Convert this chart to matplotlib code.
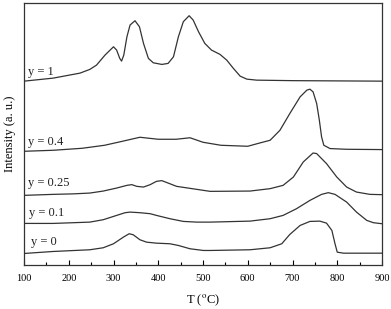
import numpy as np
import matplotlib
matplotlib.use("Agg")
import matplotlib.pyplot as plt
from matplotlib.ticker import MultipleLocator

plt.rcParams['font.family'] = ['Liberation Serif', 'DejaVu Serif']
plt.rcParams['mathtext.fontset'] = 'stix'

# TPR curves, intensity in arbitrary units (already offset for stacking)
t_y1 = [100, 165, 225, 247, 262, 281, 300, 307, 314, 318, 323, 330, 337, 348, 358, 367,
        378, 389, 408, 422, 434, 445, 456, 469, 478, 490, 504, 519, 538, 553, 568, 583,
        598, 620, 700, 900]
i_y1 = [183, 186, 191, 194.7, 199, 209, 217.3, 214, 205.7, 203, 209, 227.3, 239, 243.3,
        237.3, 220.7, 205.7, 201.3, 199.7, 200.7, 207.3, 227.3, 242.3, 248.3, 244, 232.3,
        220.7, 214, 209.7, 204, 195.7, 188, 185, 184, 183.5, 183]

t_y04 = [100, 165, 230, 280, 320, 359, 400, 440, 471, 500, 540, 600, 627, 650, 672, 694,
         717, 732, 739, 746, 754, 760, 765, 770, 784, 821, 900]
i_y04 = [113, 114, 116, 119, 123, 127, 125, 125, 126.5, 122, 119, 118, 121.3, 124, 134,
         150.7, 167.3, 174, 175, 172.3, 160.7, 144, 127.3, 119, 115.7, 115, 114.7]

t_y025 = [100, 165, 210, 247, 277, 307, 330, 341, 352, 367, 382, 396, 408, 422, 441, 471,
          501, 516, 605, 650, 679, 702, 724, 746, 754, 776, 799, 821, 843, 873, 900]
i_y025 = [69, 70, 70.5, 71.3, 73.3, 76.3, 79, 79.7, 78, 77.3, 79.7, 83, 83.7, 81.3, 78, 76,
          74, 73, 73.3, 75.7, 79, 87.3, 102.3, 111.3, 110.7, 100.7, 87.3, 77.3, 72.3, 70, 69.7]

t_y01 = [100, 165, 247, 277, 307, 326, 337, 359, 382, 396, 426, 456, 486, 516, 605, 650,
         679, 709, 739, 765, 780, 795, 821, 843, 866, 881, 900]
i_y01 = [41, 41, 42.3, 44.7, 49, 51.7, 52.3, 51.7, 50.7, 49, 45.7, 43, 42.3, 42.3, 43.3,
         45.7, 49, 55.7, 64, 70, 71.7, 70, 62.3, 52.3, 44, 41.7, 40.7]

t_y0 = [100, 165, 247, 277, 300, 322, 335, 344, 359, 374, 396, 426, 445, 471, 501, 516,
        605, 650, 676, 694, 717, 739, 761, 776, 788, 795, 800, 814, 900]
i_y0 = [11, 13, 14.7, 16.7, 20.7, 27.3, 30.7, 29.7, 24.7, 22.3, 21.3, 20.7, 19, 15.7, 14,
        14, 14.7, 16.7, 20.7, 30, 39, 43, 43.3, 41.3, 34, 20.7, 12.3, 11.3, 11.3]

labels = ["y = 1", "y = 0.4", "y = 0.25", "y = 0.1", "y = 0"]
label_pos = [(110, 192), (110, 122), (110, 81), (112, 51), (115, 22)]

series = [(t_y1, i_y1), (t_y04, i_y04), (t_y025, i_y025), (t_y01, i_y01), (t_y0, i_y0)]

fig = plt.figure(figsize=(3.91, 3.09), dpi=100)
ax = fig.add_axes([24 / 391, 44.5 / 309, 358 / 391, 261.5 / 309])

for (t, i), lab, (lx, ly) in zip(series, labels, label_pos):
    ax.plot(t, i, color="#333333", lw=0.9, solid_joinstyle="round")
    ax.text(lx, ly, lab, fontsize=9, va="center", ha="left", color="#222222")

ax.set_xlim(100, 900)
ax.set_ylim(0, 261)
ax.set_yticks([])
ax.xaxis.set_major_locator(MultipleLocator(100))
ax.xaxis.set_minor_locator(MultipleLocator(50))
ax.tick_params(axis="x", which="major", direction="in", length=3.5, width=0.8, labelsize=7.5, pad=7)
ax.tick_params(axis="x", which="minor", direction="in", length=2, width=0.8)
for s in ax.spines.values():
    s.set_linewidth(0.9)
    s.set_color("#333333")

ax.set_xlabel("T ($^{\\rm o}$C)", fontsize=9, labelpad=7)
ax.set_ylabel("Intensity (a. u.)", fontsize=9, labelpad=6)

fig.savefig("out.png", dpi=100)
